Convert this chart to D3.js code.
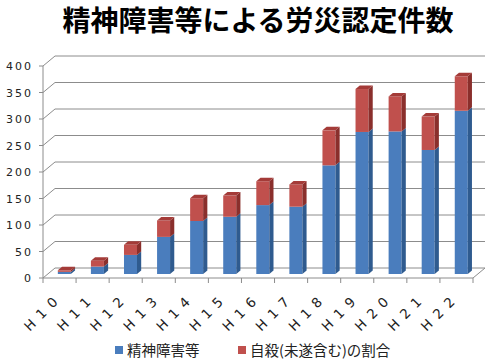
<!DOCTYPE html>
<html><head><meta charset="utf-8">
<script src="https://cdn.jsdelivr.net/npm/d3@7/dist/d3.min.js"></script>
<style>body{margin:0;background:#fff}svg{display:block}</style>
</head><body>
<svg id="c" width="500" height="364"></svg>
<script>
const title = "精神障害等による労災認定件数";
const categories = ["H10","H11","H12","H13","H14","H15","H16","H17","H18","H19","H20","H21","H22"];
const mental = [4,14,36,70,100,108,130,127,205,268,269,234,308];
const suicide = [3,11,19,31,43,40,45,42,66,81,66,63,65];
const seriesNames = ["精神障害等","自殺(未遂含む)の割合"];
const yTicks = [0,50,100,150,200,250,300,350,400];

const svg = d3.select("#c");
const font = "'Noto Sans CJK JP','DejaVu Sans',sans-serif";
const DX = 12, DY = -10; // depth vector
const x = d3.scaleBand().domain(categories).range([43, 473]);
const y = d3.scaleLinear().domain([0, 400]).range([278, 66]);
const grid = "#8c8c8c";

// title
svg.append("text").attr("x", 258).attr("y", 31).attr("text-anchor", "middle")
  .attr("font-family", font).attr("font-weight", "bold").attr("font-size", 28)
  .attr("fill", "#000").text(title);

// gridlines on back wall + left wall diagonals
const g = svg.append("g");
yTicks.forEach(t => {
  const yy = y(t);
  g.append("path").attr("d", `M${x.range()[0]},${yy}L${x.range()[0]+DX},${yy+DY}L${x.range()[1]+DX},${yy+DY}`)
    .attr("fill", "none").attr("stroke", grid).attr("stroke-width", 1);
});
// floor
const x0 = x.range()[0], x1 = x.range()[1];
g.append("path").attr("d", `M${x0},${y(0)}L${x1},${y(0)}L${x1+DX},${y(0)+DY}`)
  .attr("fill", "none").attr("stroke", grid).attr("stroke-width", 1);
// left axis
g.append("line").attr("x1", x0).attr("x2", x0).attr("y1", y(400)).attr("y2", y(0))
  .attr("stroke", grid);
yTicks.forEach(t => {
  g.append("line").attr("x1", x0 - 4).attr("x2", x0).attr("y1", y(t)).attr("y2", y(t)).attr("stroke", grid);
  g.append("text").attr("x", 33).attr("y", y(t) + 4).attr("text-anchor", "end")
    .attr("font-family", "'DejaVu Sans',sans-serif").attr("font-size", 11).attr("letter-spacing", 2)
    .attr("fill", "#222").text(t);
});
categories.forEach((c, i) => {
  const xt = x(c);
  g.append("line").attr("x1", xt).attr("x2", xt).attr("y1", y(0)).attr("y2", y(0) + 5).attr("stroke", grid);
});
g.append("line").attr("x1", x1).attr("x2", x1).attr("y1", y(0)).attr("y2", y(0) + 5).attr("stroke", grid);

// bars
const t0 = 0.4, t1 = 0.75, bw = 13;
const colors = [
  {front: "#4a7dbd", side: "#2f5b8f", top: "#5f8fcb"},
  {front: "#c0504d", side: "#8a2f2c", top: "#a43b38"}
];
const bars = svg.append("g");
categories.forEach((c, i) => {
  const segs = [[0, mental[i], 0], [mental[i], mental[i] + suicide[i], 1]];
  const bx = x(c) + (x.bandwidth() - bw) / 2 + DX * t0;
  const oy = DY * t0;
  const ddx = DX * (t1 - t0), ddy = DY * (t1 - t0);
  segs.forEach(([a, b, k], si) => {
    const col = colors[k];
    const ya = y(a) + oy, yb = y(b) + oy;
    bars.append("rect").attr("x", bx).attr("y", yb).attr("width", bw).attr("height", Math.max(0, ya - yb)).attr("fill", col.front);
    bars.append("path").attr("d", `M${bx+bw},${ya}L${bx+bw+ddx},${ya+ddy}L${bx+bw+ddx},${yb+ddy}L${bx+bw},${yb}Z`).attr("fill", col.side);
    if (si === 1) {
      bars.append("path").attr("d", `M${bx},${yb}L${bx+ddx},${yb+ddy}L${bx+bw+ddx},${yb+ddy}L${bx+bw},${yb}Z`).attr("fill", col.top);
    }
  });
});

// x labels (characters spaced with en spaces, rotated 45°)
categories.forEach((c) => {
  const cx = x(c) + x.bandwidth() / 2 - 1;
  svg.append("text").attr("transform", `translate(${cx},${303}) rotate(-45)`)
    .attr("text-anchor", "end").attr("font-family", "'DejaVu Sans',sans-serif").attr("font-size", 13.5)
    .attr("fill", "#222").text(c.split("").join("\u2002"));
});

// legend
const leg = [{x: 115, k: 0}, {x: 238, k: 1}];
leg.forEach(l => {
  svg.append("rect").attr("x", l.x).attr("y", 346).attr("width", 8).attr("height", 8).attr("fill", colors[l.k].front);
  svg.append("text").attr("x", l.x + 12).attr("y", 355.5).attr("font-family", font).attr("font-size", 14.5)
    .attr("fill", "#222").text(seriesNames[l.k]);
});
</script>
</body></html>
